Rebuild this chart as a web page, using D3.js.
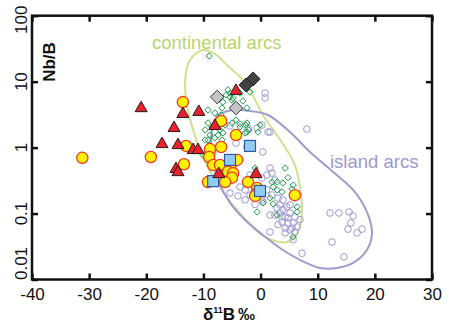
<!DOCTYPE html>
<html><head><meta charset="utf-8">
<script src="https://cdn.jsdelivr.net/npm/d3@7/dist/d3.min.js"></script>
<style>
body{margin:0;background:#fff;}
svg{display:block;font-family:"Liberation Sans",Arial,sans-serif;}
</style></head><body>
<svg id="chart" width="449" height="335"></svg>
<script>
const xTicks = [-40, -30, -20, -10, 0, 10, 20, 30];
const yTicks = [0.01, 0.1, 1, 10, 100];
const yTickLabels = ["0.01", "0.1", "1", "10", "100"];

// [δ11B, Nb/B]
const redTriangles = [[-20.9,4.1],[-13.6,3.35],[-10.8,3.6],[-15.15,2.05],[-17.25,1.17],[-14.45,1.13],
  [-11.8,0.95],[-10.95,0.95],[-14.8,0.49],[-14.45,0.44],[-8.0,2.2],[-7.3,0.41],[-4.3,7.5],[-0.8,0.41]];
const yellowCircles = [[-31.2,0.70],[-19.2,0.72],[-13.6,4.9],[-13.05,1.06],[-13.4,0.56],[-6.9,2.53],[-4.3,1.55],
  [-6.9,1.02],[-8.85,0.95],[-9.0,0.72],[-8.3,0.545],[-7.1,0.545],[-5.0,0.585],[-4.1,0.65],[-5.7,0.43],
  [-4.8,0.41],[-5.0,0.35],[-6.2,0.30],[-9.2,0.30],[-2.2,0.30],[-0.6,0.244],[-0.6,0.205],[-0.95,0.185],[6.0,0.19]];
const blueSquares = [[-1.85,1.06],[-5.35,0.65],[-8.3,0.31],[-0.1,0.22]];
const grayDiamonds = [[-7.6,5.85],[-4.3,3.98]];
const darkDiamonds = [[-1.3,11.0],[-2.55,8.9]];
const greenDiamonds = [[-9.0,24.5],[-6.05,6.3],[-5.35,5.85],[-4.8,5.65],[-3.1,5.1],[-3.6,6.7],[-5.35,6.7],[-6.6,4.9],
  [-5.0,5.27],[-6.75,4.0],[-2.4,4.0],[-9.2,3.72],[-6.9,3.12],[-8.0,3.35],[-4.3,2.62],[-2.4,2.36],[-3.6,2.05],
  [-0.45,1.72],[-2.05,1.85],[-9.7,1.85],[-8.85,1.55],[-7.45,1.55],[-9.2,1.3],[-6.75,1.3],[-2.4,1.72],[-9.2,2.36],
  [-8.5,2.05],[-7.6,2.45],[-7.1,1.85],[-8.0,1.4],[-9.7,1.3],[-9.0,1.09],[-9.4,0.86],[-10.1,0.77],[-8.3,0.83],
  [-6.6,1.67],[-6.2,2.2],[-5.0,2.36],[-3.6,2.28],[-2.55,2.2],[-0.1,2.2],[-2.7,1.67],[-0.95,0.49],[4.3,0.49],
  [2.9,0.30],[3.9,0.29],[4.8,0.35],[5.7,0.27],[5.5,0.236],[2.2,0.253],[2.9,0.228],[3.75,0.212],[1.65,0.172],
  [2.2,0.14],[0.4,0.145],[-0.6,0.106],[6.4,0.126],[6.4,0.106],[5.7,0.044],[2.0,0.30],[2.9,0.095],[-5.7,7.5],[-1.85,6.97]];
const lavenderCircles = [[8.1,1.91],[0.8,6.7],[0.8,5.65],[0.25,2.2],[1.3,1.72],[-0.6,1.98],[-5.35,2.13],[-4.3,1.17],
  [-2.4,1.02],[12.15,0.102],[13.7,0.102],[15.5,0.106],[16.2,0.092],[15.8,0.072],[15.3,0.058],[17.75,0.058],
  [16.9,0.051],[12.5,0.037],[14.6,0.022],[7.25,0.025],[-2.2,1.98],[1.65,1.72],[0.4,0.86],[1.65,0.49],[2.0,0.41],
  [1.1,0.384],[-1.85,0.384],[0.25,0.346],[2.5,0.323],[-2.7,0.228],[1.1,0.228],[2.0,0.191],[-3.6,0.253],
  [-1.85,0.191],[0.4,0.15],[2.9,0.121],[3.9,0.161],[4.6,0.126],[3.4,0.102],[4.3,0.089],[5.15,0.102],[6.0,0.089],
  [3.75,0.0745],[4.8,0.072],[5.7,0.072],[6.4,0.0626],[4.3,0.06],[5.15,0.0564],[6.0,0.0526],[4.3,0.051],
  [1.65,0.0526],[5.7,0.040],[-5.35,0.205],[0.25,0.161],[3.05,0.172],[3.75,0.089],[3.4,0.135],[5.15,0.135],
  [2.5,0.095],[4.8,0.086],[5.5,0.06],[3.9,0.115],[1.65,0.095],[6.9,0.081],[3.05,0.068],[-0.95,0.137],
  [-2.7,0.161],[-3.95,0.185]];

// field outlines
const continentalOutline = [[-10.1,30.2],[-8.0,26.3],[-5.9,17.9],[-3.6,11.8],[-1.85,7.47],[0.4,3.12],[2.5,1.72],
  [4.6,0.92],[6.0,0.545],[6.9,0.253],[7.25,0.113],[6.55,0.0526],[4.6,0.0371],[2.5,0.0384],[0.25,0.0473],
  [-2.2,0.0745],[-5.0,0.14],[-8.0,0.323],[-10.25,0.772],[-11.8,1.85],[-12.9,4.43],[-13.2,10.6],[-12.35,21.3]];
const islandOutline = [[-7.6,3.01],[-4.8,3.72],[-1.85,3.59],[1.3,3.12],[5.15,1.72],[8.65,0.857],[12.7,0.427],
  [16.2,0.228],[18.6,0.106],[19.5,0.0508],[18.6,0.028],[16.2,0.0178],[13.4,0.0149],[10.4,0.0149],[6.9,0.0198],
  [3.9,0.028],[0.4,0.0473],[-2.7,0.08],[-5.35,0.145],[-7.45,0.323],[-8.5,0.772],[-8.5,1.85]];

const svg = d3.select('#chart');
const m = { left: 32, right: 432, top: 15.7, bottom: 279.5 };

const x = d3.scaleLinear().domain([-40, 30]).range([m.left, m.right]);
const y = d3.scaleLog().domain([0.01, 100]).range([m.bottom, m.top]);

const plot = svg.append('g');

// field outlines
const outline = d3.line().x(d => x(d[0])).y(d => y(d[1])).curve(d3.curveCatmullRomClosed.alpha(0.5));
plot.append('path').attr('d', outline(continentalOutline))
  .attr('fill', 'none').attr('stroke', '#cfe08f').attr('stroke-width', 2);
plot.append('path').attr('d', outline(islandOutline))
  .attr('fill', 'none').attr('stroke', '#9f9bcf').attr('stroke-width', 2);

// open markers
plot.selectAll('.lav').data(lavenderCircles).enter().append('circle')
  .attr('cx', d => x(d[0])).attr('cy', d => y(d[1])).attr('r', 3.3)
  .attr('fill', 'none').attr('stroke', '#9e99d0').attr('stroke-width', 1);

const diamond = s => `M0,${-s}L${s},0L0,${s}L${-s},0Z`;
plot.selectAll('.grn').data(greenDiamonds).enter().append('path')
  .attr('transform', d => `translate(${x(d[0])},${y(d[1])})`)
  .attr('d', diamond(3.2))
  .attr('fill', 'none').attr('stroke', '#1e9a4c').attr('stroke-width', 1);

plot.selectAll('.gry').data(grayDiamonds).enter().append('path')
  .attr('transform', d => `translate(${x(d[0])},${y(d[1])})`)
  .attr('d', diamond(6.8))
  .attr('fill', '#c4c4c4').attr('stroke', '#3a3a3a').attr('stroke-width', 1);
plot.selectAll('.drk').data(darkDiamonds).enter().append('path')
  .attr('transform', d => `translate(${x(d[0])},${y(d[1])})`)
  .attr('d', diamond(7))
  .attr('fill', '#3f4443').attr('stroke', '#222').attr('stroke-width', 1);

plot.selectAll('.yel').data(yellowCircles).enter().append('circle')
  .attr('cx', d => x(d[0])).attr('cy', d => y(d[1])).attr('r', 5.6)
  .attr('fill', '#fff200').attr('stroke', '#ee3a2a').attr('stroke-width', 1.3);

plot.selectAll('.blu').data(blueSquares).enter().append('rect')
  .attr('x', d => x(d[0]) - 5.5).attr('y', d => y(d[1]) - 5.5)
  .attr('width', 11).attr('height', 11)
  .attr('fill', '#8ecdf0').attr('stroke', '#3454a6').attr('stroke-width', 1.2);

plot.selectAll('.tri').data(redTriangles).enter().append('path')
  .attr('transform', d => `translate(${x(d[0])},${y(d[1])})`)
  .attr('d', 'M0,-6L6,4.5L-6,4.5Z')
  .attr('fill', '#e8212b').attr('stroke', '#2b1b1b').attr('stroke-width', 1);

// field labels
svg.append('text').attr('x', 152).attr('y', 49).attr('font-size', 18.5)
  .attr('fill', '#b9d46c').text('continental arcs');
svg.append('text').attr('x', 330).attr('y', 168).attr('font-size', 18.5)
  .attr('fill', '#9d99cf').text('island arcs');

// frame and ticks
const axisStyle = g => {
  g.select('.domain').remove();
  g.selectAll('.tick line').attr('stroke', '#111').attr('stroke-width', 2.5);
};
svg.append('g').attr('transform', `translate(0,${m.bottom})`)
  .call(d3.axisBottom(x).tickValues(xTicks).tickSize(-6).tickPadding(8.5))
  .call(axisStyle)
  .call(g => g.selectAll('text').attr('font-size', 17).attr('fill', '#111')
    .attr('font-family', '"Liberation Sans",Arial,sans-serif').text(d => d < 0 ? '-' + Math.abs(d) : d));
svg.append('g').attr('transform', `translate(0,${m.top})`)
  .call(d3.axisTop(x).tickValues(xTicks).tickSize(-6).tickFormat(''))
  .call(axisStyle);
svg.append('g').attr('transform', `translate(${m.left},0)`)
  .call(d3.axisLeft(y).tickValues(yTicks).tickSize(-6).tickFormat(''))
  .call(axisStyle);
svg.append('g').attr('transform', `translate(${m.right},0)`)
  .call(d3.axisRight(y).tickValues(yTicks).tickSize(-6).tickFormat(''))
  .call(axisStyle);

svg.append('rect').attr('x', m.left).attr('y', m.top)
  .attr('width', m.right - m.left).attr('height', m.bottom - m.top)
  .attr('fill', 'none').attr('stroke', '#111').attr('stroke-width', 2.5);

// rotated y tick labels
svg.selectAll('.ylab').data(yTicks).enter().append('text')
  .attr('transform', (d, i) => {
    let py = y(d);
    if (i === 0) py -= 16;
    if (i === yTicks.length - 1) py += 4;
    return `translate(27,${py}) rotate(-90)`;
  })
  .attr('text-anchor', 'middle').attr('font-size', 17).attr('fill', '#111')
  .text((d, i) => yTickLabels[i]);

// axis titles
svg.append('text').attr('transform', 'translate(55,62) rotate(-90)')
  .attr('text-anchor', 'middle').attr('font-size', 17).attr('font-weight', 'bold').attr('fill', '#111')
  .text('Nb/B');
const xt = svg.append('text').attr('x', 203).attr('y', 320)
  .attr('font-size', 17).attr('font-weight', 'bold').attr('fill', '#111');
xt.append('tspan').text('δ');
xt.append('tspan').attr('font-size', 9).attr('dy', -7).text('11');
xt.append('tspan').attr('dy', 7).text('B');
xt.append('tspan').attr('dx', 3).text('‰');
</script>
</body></html>
